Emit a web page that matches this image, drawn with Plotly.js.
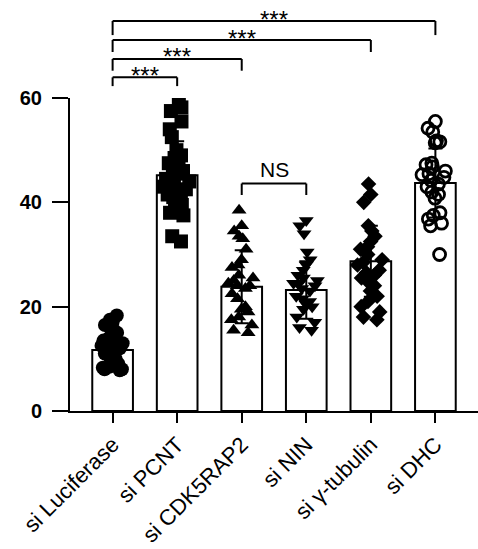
<!DOCTYPE html>
<html>
<head>
<meta charset="utf-8">
<script src="https://cdn.plot.ly/plotly-3.0.1.min.js"></script>
<style>html,body{margin:0;padding:0;background:#fff;}#chart{width:478px;height:549px;}</style>
</head>
<body>
<div id="chart"></div>
<script>
// ---- data ----
var categories = ['si Luciferase', 'si PCNT', 'si CDK5RAP2', 'si NIN', 'si \u03b3-tubulin', 'si DHC'];
var means = [11.7, 45.2, 23.8, 23.2, 28.7, 43.7];
var sds = [3.0, 6.5, 7.0, 5.5, 6.8, 6.6];

var luciferase = [18.3, 17.5, 17, 16.5, 16, 15.5, 15, 14.5, 14, 13.5, 13, 13, 12.5, 12.5, 12, 12, 11.5, 11, 10.5, 10, 9.5, 9, 8.5, 8.3, 8, 8, 7.8];
var pcnt = [58.8, 58.2, 57.5, 55.5, 54, 52.5, 50, 49, 48.5, 48, 47.5, 47, 46.5, 46, 45.5, 45, 44.5, 44, 44, 43.5, 43, 42.5, 42, 42, 41.5, 41, 40.5, 40, 39.5, 39, 38, 37.5, 33.5, 32.5];
var cdk5rap2 = [38.5, 35.5, 34.5, 33.5, 33, 31, 29, 28, 27.5, 26, 25.5, 25, 24.5, 24, 24, 23.5, 22.5, 21.5, 20, 19.5, 19, 18, 17.5, 16.5, 15.5, 15];
var nin = [36.5, 35.5, 34, 30.5, 29, 28, 27, 26, 25.5, 25, 24.5, 24.5, 24, 23.5, 23, 22, 21.5, 21, 20.5, 20, 19.5, 18, 17, 16, 15.5];
var gtubulin = [43.5, 41.5, 40, 35.5, 34.5, 33.5, 32.5, 31.5, 31, 30, 29, 28.5, 28, 27, 26.5, 26, 25.5, 25, 24, 23, 22, 21, 20, 19, 18, 17.5];
var dhc = [55.5, 54.2, 53.5, 51.8, 51.6, 51.4, 47.5, 47.2, 46.8, 46, 45.5, 45.3, 44.8, 44.2, 43.5, 43, 42, 41.5, 40.8, 38, 37.5, 36.8, 36, 35.5, 30];

var groups = [luciferase, pcnt, cdk5rap2, nin, gtubulin, dhc];
var symbols = ['circle', 'square', 'triangle-up', 'triangle-down', 'diamond', 'circle-open'];
var markerSizes = [14, 14, 13, 13, 12, 12];

var comparisons = [[0, 1, '***'], [0, 2, '***'], [0, 4, '***'], [0, 5, '***']];
var nsPair = [2, 3, 'NS'];

var traces = [];
traces.push({
  type: 'bar', x: categories, y: means, width: 0.63,
  marker: {color: '#ffffff', line: {color: '#000000', width: 2}},
  hoverinfo: 'skip', showlegend: false
});
groups.forEach(function (vals, i) {
  traces.push({
    type: 'box', name: categories[i], y: vals,
    boxpoints: 'all', jitter: 0.85, pointpos: 0, width: 0.5,
    line: {width: 0, color: 'rgba(0,0,0,0)'}, fillcolor: 'rgba(0,0,0,0)',
    marker: {symbol: symbols[i], size: markerSizes[i], color: '#000000',
             line: {color: '#000000', width: symbols[i] === 'circle-open' ? 2.8 : 0}},
    showlegend: false, hoveron: 'points'
  });
});
traces.push({
  type: 'scatter', mode: 'markers', x: categories, y: means,
  marker: {size: 2, opacity: 0},
  error_y: {type: 'data', array: sds, visible: true, color: '#000000', thickness: 2, width: 7},
  showlegend: false, hoverinfo: 'skip'
});

var bracketTop = [1.066, 1.1246, 1.1853, 1.246];
var bracketEnd = [1.038, 1.0872, 1.147, 1.201];
var starY = [1.0715, 1.1325, 1.1915, 1.2515];
var shapes = [], annotations = [];
var ln = {color: '#000000', width: 2};
comparisons.forEach(function (c, k) {
  shapes.push({type: 'line', xref: 'x', yref: 'paper', x0: c[0], x1: c[1], y0: bracketTop[k], y1: bracketTop[k], line: ln});
  shapes.push({type: 'line', xref: 'x', yref: 'paper', x0: c[0], x1: c[0], y0: bracketTop[k], y1: bracketEnd[k], line: ln});
  shapes.push({type: 'line', xref: 'x', yref: 'paper', x0: c[1], x1: c[1], y0: bracketTop[k], y1: bracketEnd[k], line: ln});
  annotations.push({xref: 'x', yref: 'paper', x: (c[0] + c[1]) / 2, y: starY[k], text: c[2], showarrow: false,
    xanchor: 'center', yanchor: 'middle', font: {family: 'Liberation Sans, Arial, sans-serif', size: 24, color: '#000'}});
});
shapes.push({type: 'line', xref: 'x', yref: 'y', x0: nsPair[0], x1: nsPair[1], y0: 43.6, y1: 43.6, line: ln});
shapes.push({type: 'line', xref: 'x', yref: 'y', x0: nsPair[0], x1: nsPair[0], y0: 43.6, y1: 41.4, line: ln});
shapes.push({type: 'line', xref: 'x', yref: 'y', x0: nsPair[1], x1: nsPair[1], y0: 43.6, y1: 41.4, line: ln});
annotations.push({xref: 'x', yref: 'y', x: (nsPair[0] + nsPair[1]) / 2, y: 43.8, text: nsPair[2], showarrow: false,
  xanchor: 'center', yanchor: 'bottom', font: {family: 'Liberation Sans, Arial, sans-serif', size: 21, color: '#000'}});

var layout = {
  width: 478, height: 549,
  margin: {l: 70, r: 0, t: 98, b: 138, pad: 0},
  paper_bgcolor: '#ffffff', plot_bgcolor: '#ffffff',
  showlegend: false, boxmode: 'overlay',
  xaxis: {
    type: 'category', range: [-0.66, 5.66], showgrid: false, zeroline: false, automargin: false,
    showline: true, linecolor: '#000', linewidth: 2,
    ticks: 'outside', ticklen: 10, tickwidth: 2, tickcolor: '#000',
    tickangle: -45, tickfont: {family: 'Liberation Sans, Arial, sans-serif', size: 22, color: '#000'}
  },
  yaxis: {
    range: [0, 60], tickvals: [0, 20, 40, 60], showgrid: false, zeroline: false, automargin: false,
    showline: true, linecolor: '#000', linewidth: 2,
    ticks: 'outside', ticklen: 16, tickwidth: 2, tickcolor: '#000', ticklabelstandoff: 6,
    tickfont: {family: 'Liberation Sans, Arial, sans-serif', size: 20, color: '#000', weight: 'bold'}
  },
  shapes: shapes, annotations: annotations
};

Plotly.newPlot('chart', traces, layout, {displayModeBar: false});
</script>
</body>
</html>
